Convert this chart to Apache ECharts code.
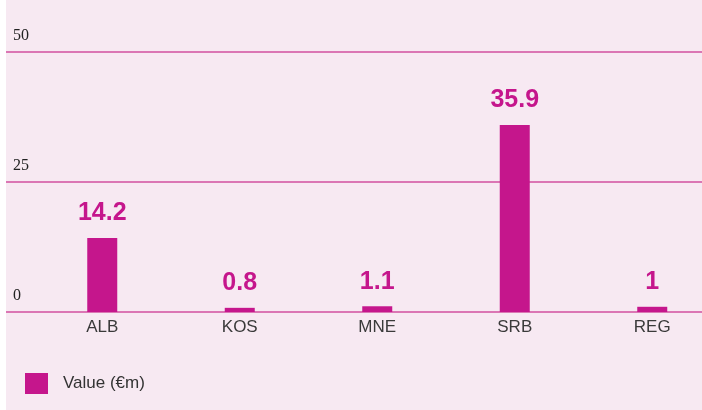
<!DOCTYPE html>
<html>
<head>
<meta charset="utf-8">
<script src="https://cdn.jsdelivr.net/npm/echarts@6/dist/echarts.min.js"></script>
<style>
html,body{margin:0;padding:0;background:#ffffff;}
#c{position:absolute;left:6px;top:0;width:696px;height:410px;}
</style>
</head>
<body>
<div id="c"></div>
<script>
const categories = ['ALB', 'KOS', 'MNE', 'SRB', 'REG'];
const values = [14.2, 0.8, 1.1, 35.9, 1];
const seriesName = 'Value (€m)';
const yMin = 0, yMax = 50, yInterval = 25;

const pink = '#c5168c';
const gridColor = '#d24f9f';
const chart = echarts.init(document.getElementById('c'));
chart.setOption({
  backgroundColor: '#f7e9f2',
  animation: false,
  grid: [
    {left: 0, right: 0, top: 51.5, bottom: 98, outerBoundsMode: 'none'},
    {left: 27.5, width: 687.5, top: 51.5, bottom: 98, outerBoundsMode: 'none'}
  ],
  legend: {
    left: 19, top: 373, padding: 0,
    itemWidth: 23, itemHeight: 21, itemGap: 10,
    icon: 'rect',
    textStyle: {fontFamily: 'Liberation Sans, Arial, sans-serif', fontSize: 17, color: '#333', padding: [0,0,0,10]},
    data: [seriesName]
  },
  xAxis: [
    {gridIndex: 0, type: 'value', show: false, min: 0, max: 1},
    {gridIndex: 1, type: 'category', data: categories,
      axisLine: {show: false}, axisTick: {show: false},
      axisLabel: {margin: 7, fontFamily: 'Liberation Sans, Arial, sans-serif', fontSize: 17, color: '#3a3a3a'}}
  ],
  yAxis: [
    {gridIndex: 0, type: 'value', min: yMin, max: yMax, interval: yInterval,
      axisLine: {show: false}, axisTick: {show: false},
      splitLine: {show: true, lineStyle: {color: gridColor, width: 1.5}},
      axisLabel: {inside: true, margin: 7, verticalAlign: 'bottom', padding: [0,0,8,0],
        fontFamily: 'Liberation Serif, Times New Roman, serif', fontSize: 16, color: '#222'}},
    {gridIndex: 1, type: 'value', min: yMin, max: yMax, interval: yInterval, show: false, splitLine: {show: false}}
  ],
  series: [{
    name: seriesName, type: 'bar', xAxisIndex: 1, yAxisIndex: 1,
    data: values, barWidth: 30,
    itemStyle: {color: pink},
    label: {show: true, position: 'top', distance: 12, color: pink,
      fontFamily: 'Liberation Sans, Arial, sans-serif', fontWeight: 'bold', fontSize: 25}
  }]
});
</script>
</body>
</html>
